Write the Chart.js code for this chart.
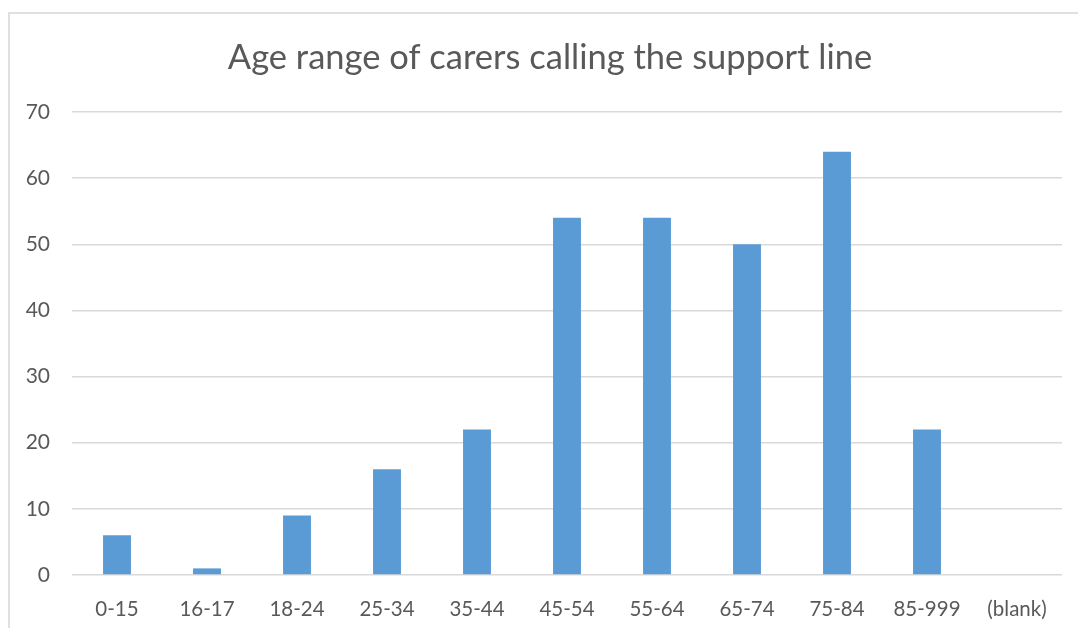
<!DOCTYPE html>
<html>
<head>
<meta charset="utf-8">
<script src="https://cdn.jsdelivr.net/npm/chart.js@4"></script>
<style>
    body { margin: 0; background: #fff; overflow: hidden; }
    #frame { position: absolute; left: 8px; top: 12px; width: 1090px; height: 700px; border: 2px solid #e0e0e0; }
    #barChart { position: absolute; left: 0; top: 0; }
</style>
</head>
<body>
<div id="frame"></div>
<canvas id="barChart" width="1078" height="628"></canvas>
<script>
const ageRanges = ['0-15', '16-17', '18-24', '25-34', '35-44', '45-54', '55-64', '65-74', '75-84', '85-999', '(blank)'];
const callerCounts = [6, 1, 9, 16, 22, 54, 54, 50, 64, 22, 0];
const yTicks = [0, 10, 20, 30, 40, 50, 60, 70];

const textColor = '#595959';
const gridColor = '#d9d9d9';

// the title in the reference is centred on the frame, not the chart area
const shiftTitle = {
    id: 'shiftTitle',
    afterLayout(chart) {
        if (chart.titleBlock) {
            chart.titleBlock.left = 38;
        }
    }
};

new Chart('barChart', {
    type: 'bar',
    data: {
        labels: ageRanges,
        datasets: [{
            data: callerCounts,
            backgroundColor: '#5b9bd5',
            categoryPercentage: 1,
            barPercentage: 0.31
        }]
    },
    options: {
        responsive: false,
        animation: false,
        layout: { padding: { left: 0, right: 16, top: 0, bottom: 0 } },
        plugins: {
            legend: { display: false },
            tooltip: { enabled: false },
            title: {
                display: true,
                text: 'Age range of carers calling the support line',
                color: textColor,
                font: { family: 'Lato', size: 34.5, weight: 'normal' },
                padding: { top: 37, bottom: 33.6 }
            }
        },
        scales: {
            x: {
                grid: { display: false },
                border: { display: false },
                ticks: {
                    color: textColor,
                    font: { family: 'Lato', size: 20.5 },
                    padding: 14,
                    maxRotation: 0,
                    autoSkip: false
                },
                afterFit: (scale) => { scale.height = 53; }
            },
            y: {
                min: 0,
                max: 70,
                afterBuildTicks: (scale) => { scale.ticks = yTicks.map(v => ({value: v})); },
                grid: { color: gridColor, lineWidth: 1.5, drawTicks: false },
                border: { display: false },
                ticks: {
                    color: textColor,
                    font: { family: 'Lato', size: 21 },
                    padding: 22
                },
                afterFit: (scale) => { scale.width = 72; }
            }
        }
    },
    plugins: [shiftTitle]
});
</script>
</body>
</html>
